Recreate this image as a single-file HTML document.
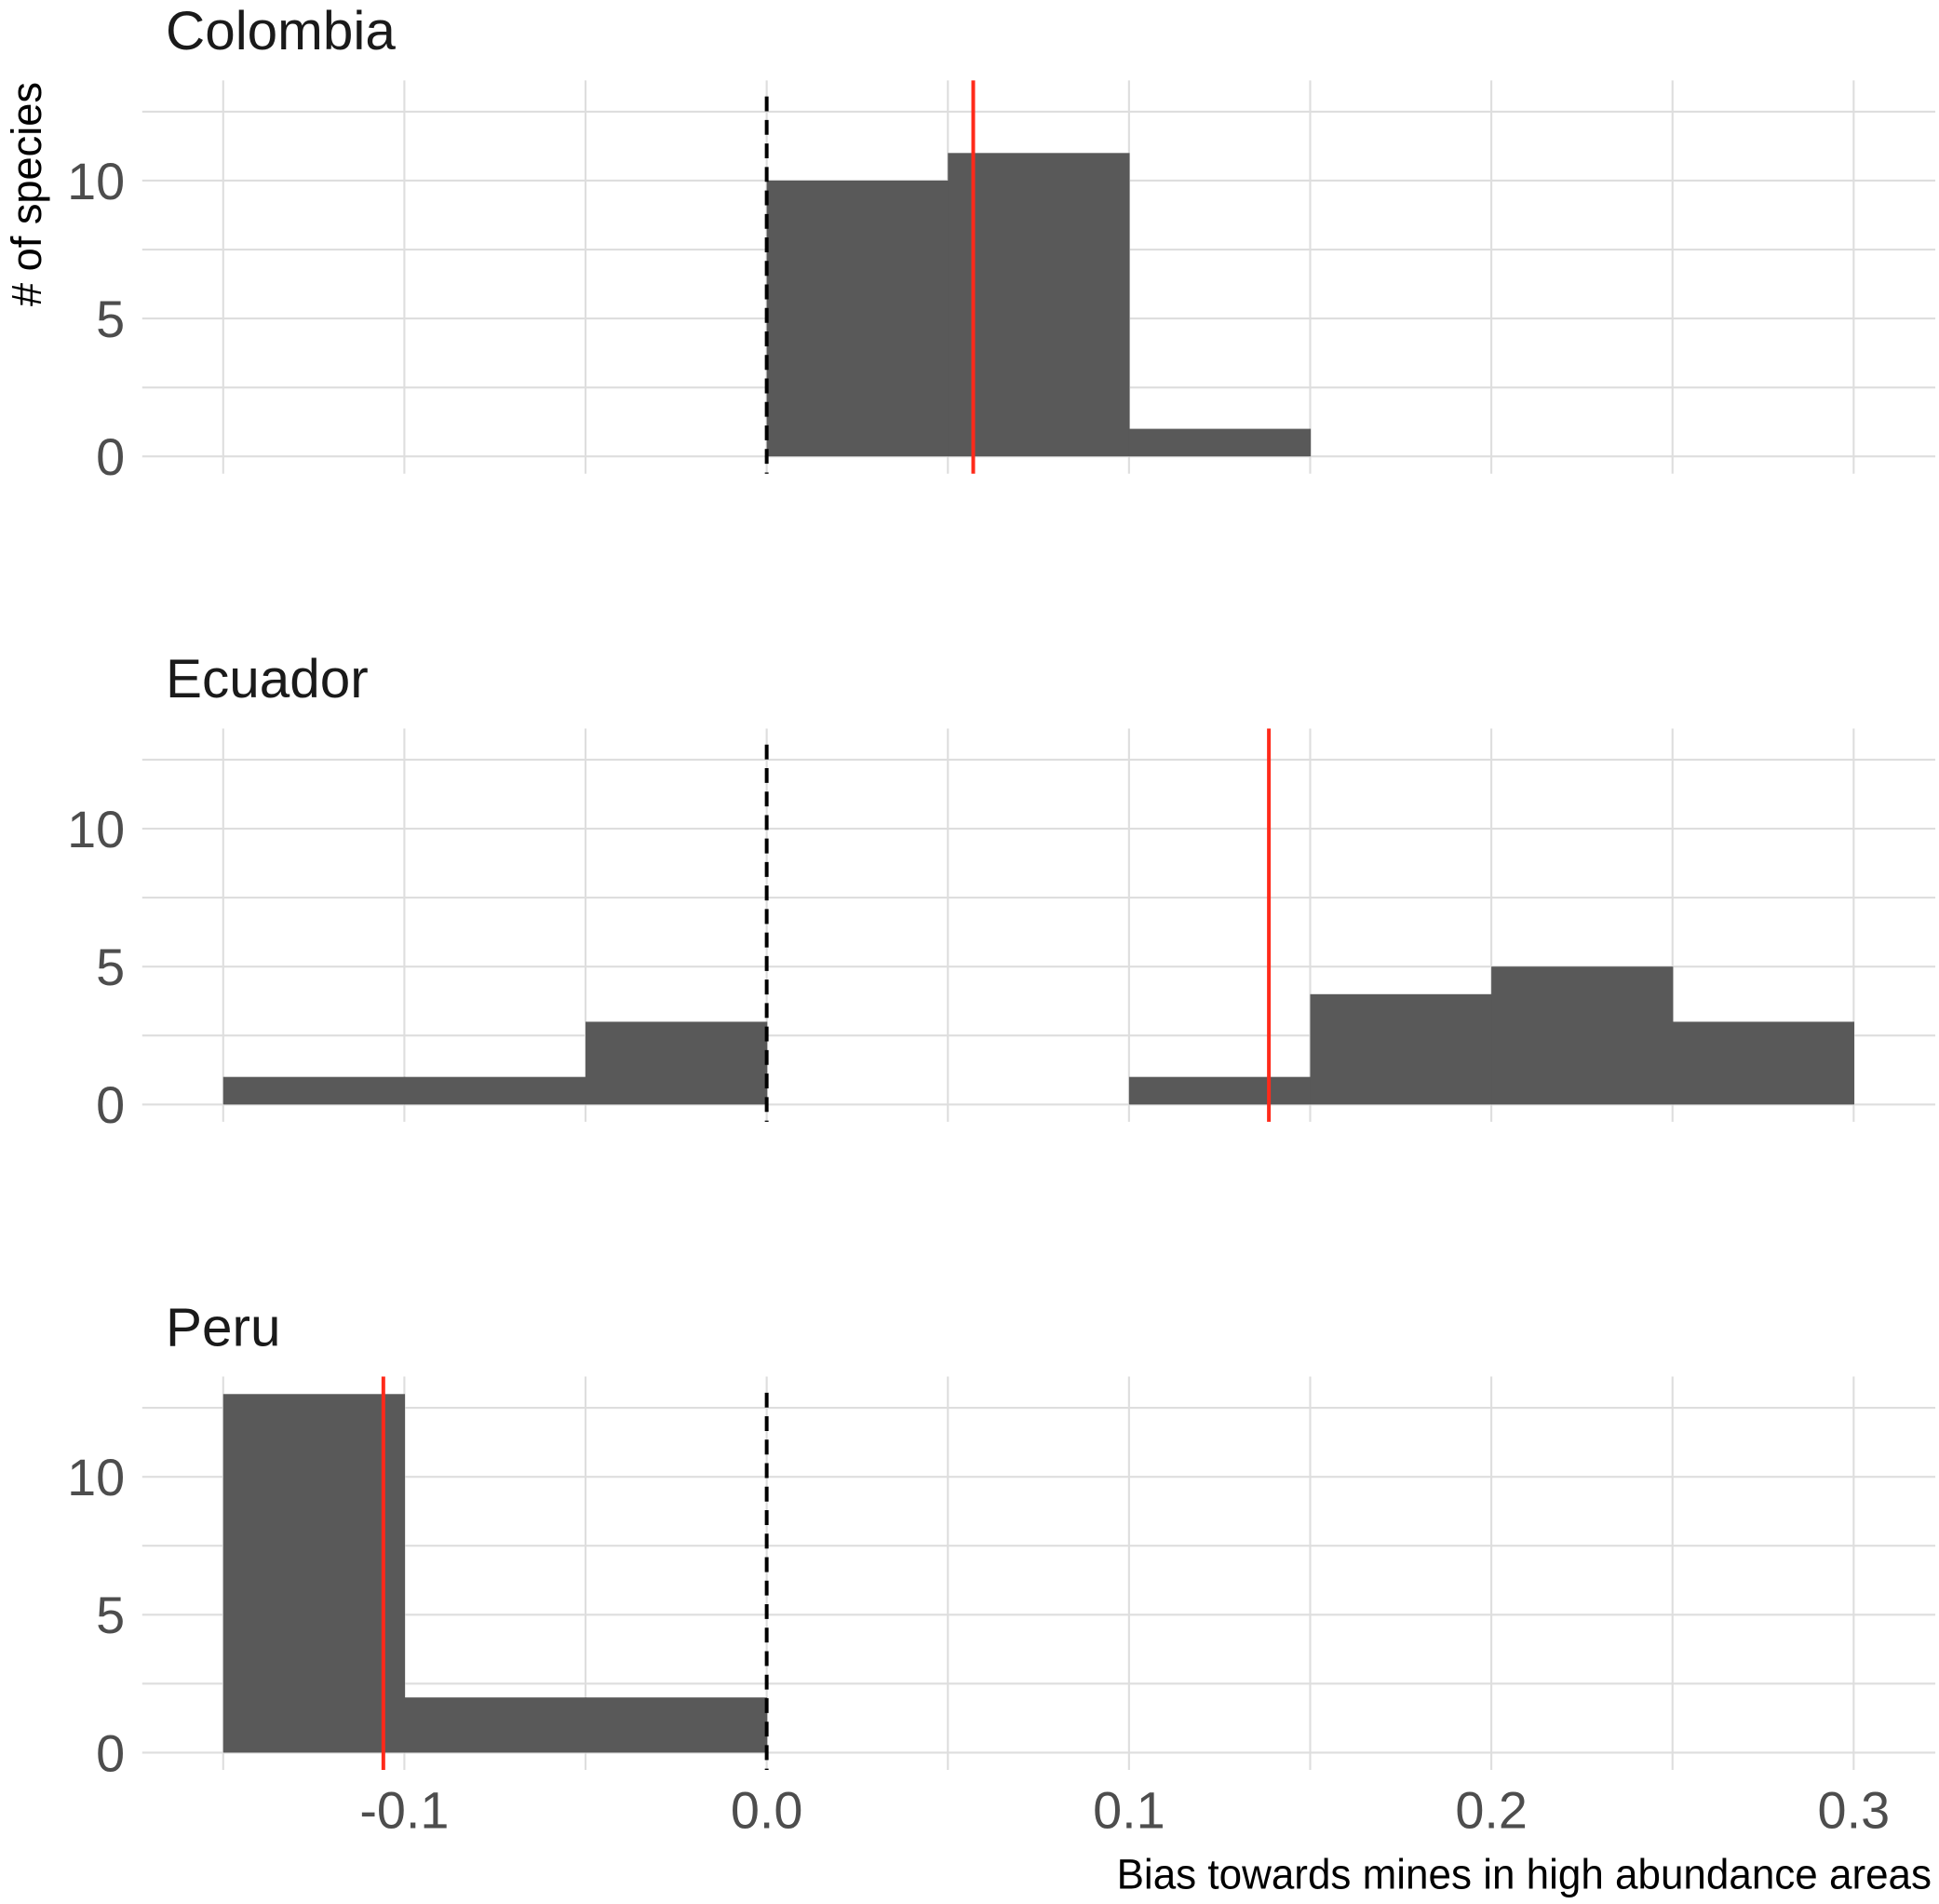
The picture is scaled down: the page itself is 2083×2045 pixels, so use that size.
<!DOCTYPE html>
<html><head><meta charset="utf-8"><style>
html,body{margin:0;padding:0;background:#fff;}
svg{display:block;font-family:"Liberation Sans Narrow","Liberation Sans",sans-serif;}
</style></head><body>
<svg id="chart" width="2083" height="2045" viewBox="0 0 1568 1539.4" preserveAspectRatio="none" xmlns="http://www.w3.org/2000/svg"></svg>
<script>
const panels = ["Colombia","Ecuador","Peru"];
const binStarts = [-0.15,-0.1,-0.05,0,0.05,0.1,0.15,0.2,0.25];
const countsColombia = [0,0,0,10,11,1,0,0,0];
const countsEcuador = [1,1,3,0,0,1,4,5,3];
const countsPeru = [13,2,2,0,0,0,0,0,0];
const meanValues = [0.057,0.1386,-0.1058];
const xTicks = [-0.1,0,0.1,0.2,0.3];
const xTickLabels = ["-0.1","0.0","0.1","0.2","0.3"];
const yTicks = [0,5,10];
const binWidth = 0.05;

const svg = document.getElementById('chart');
const NS = 'http://www.w3.org/2000/svg';
const allCounts = [countsColombia,countsEcuador,countsPeru];
function X(v){ return 620 + v*2930; }
function mk(tag, attrs, parent){ const e=document.createElementNS(NS,tag); for(const k in attrs) e.setAttribute(k,attrs[k]); (parent||svg).appendChild(e); return e; }

panels.forEach((name, p) => {
  const off = p*524;
  const Y = v => 369 + off - v*22.3;
  const top = 65 + off, bot = 383 + off;
  const g = mk('g', {});
  
  
  for (let v=-0.15; v<=0.3001; v+=0.05) {
    const l = mk('line',{x1:X(v),x2:X(v),y1:top,y2:bot,stroke:'#dedede','stroke-width':1.6},g);
    
    
  }
  for (let v=0; v<=12.5; v+=2.5) {
    const l = mk('line',{x1:115,x2:1565,y1:Y(v),y2:Y(v),stroke:'#dedede','stroke-width':1.6},g);
    
    
  }
  allCounts[p].forEach((c,i) => {
    if (!c) return;
    const b = mk('rect',{x:X(binStarts[i]),y:Y(c),width:X(binStarts[i]+binWidth)-X(binStarts[i])+0.5,height:Y(0)-Y(c),fill:'#595959'},g);
    
    
  });
  const z = mk('line',{x1:X(0),x2:X(0),y1:top+13,y2:bot,stroke:'#000','stroke-width':3,'stroke-dasharray':'12 7'},g);
  
  
  const m = mk('line',{x1:X(meanValues[p]),x2:X(meanValues[p]),y1:top,y2:bot,stroke:'#ff2a1a','stroke-width':3},g);
  
  
  yTicks.forEach(t => {
    const tx = mk('text',{x:101,y:Y(t)+15,'text-anchor':'end','font-size':42,fill:'#4d4d4d'},g);
    tx.textContent = t;
    
    
  });
  const tt = mk('text',{x:134,y:40+off,'font-size':44,fill:'#1a1a1a'},g);
  tt.textContent = name;
  
  
});
xTicks.forEach((t,i) => {
  const tx = mk('text',{x:X(t),y:1478,'text-anchor':'middle','font-size':42,fill:'#4d4d4d'});
  tx.textContent = xTickLabels[i];
  
  
});
const xt = mk('text',{x:903,y:1527,'font-size':34,fill:'#000',textLength:659,lengthAdjust:'spacingAndGlyphs'});
xt.textContent = 'Bias towards mines in high abundance areas';


const yt = mk('text',{x:0,y:0,'text-anchor':'middle','font-size':34,fill:'#000',transform:'translate(33,157) rotate(-90)'});
yt.textContent = '# of species';


</script>
</body></html>
